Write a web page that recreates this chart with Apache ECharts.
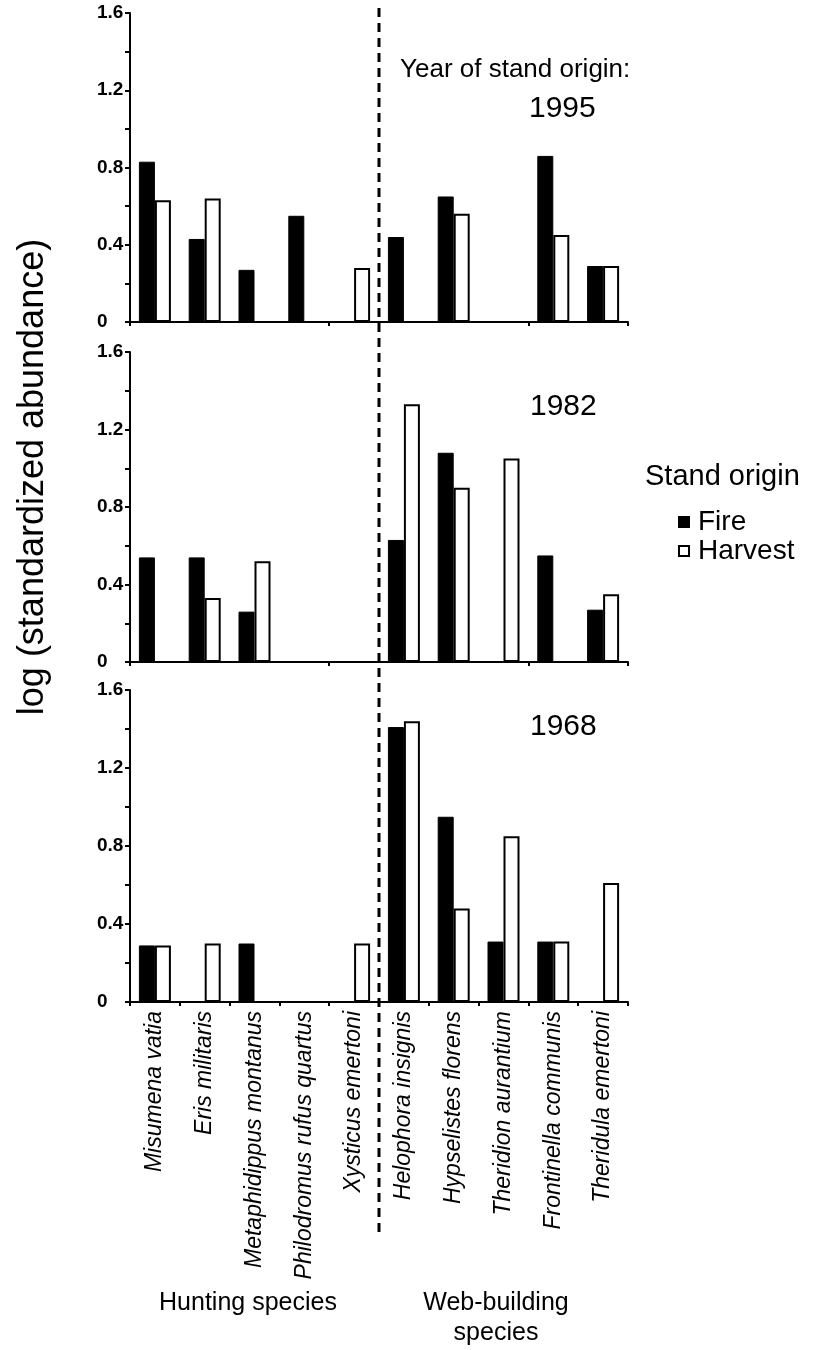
<!DOCTYPE html>
<html>
<head>
<meta charset="utf-8">
<script src="https://cdn.jsdelivr.net/npm/echarts@6/dist/echarts.min.js"></script>
<style>
html,body{margin:0;padding:0;background:#fff;}
#chart{width:828px;height:1350px;}
</style>
</head>
<body>
<div id="chart"></div>
<script>
// ---- data ----
var species = ["Misumena vatia", "Eris militaris", "Metaphidippus montanus", "Philodromus rufus quartus", "Xysticus emertoni",
  "Helophora insignis", "Hypselistes florens", "Theridion aurantium", "Frontinella communis", "Theridula emertoni"];
var years = ["1995", "1982", "1968"];
var fire1995    = [0.83, 0.43, 0.27, 0.55, 0, 0.44, 0.65, 0, 0.86, 0.29];
var harvest1995 = [0.63, 0.64, 0, 0, 0.28, 0, 0.56, 0, 0.45, 0.29];
var fire1982    = [0.54, 0.54, 0.26, 0, 0, 0.63, 1.08, 0, 0.55, 0.27];
var harvest1982 = [0, 0.33, 0.52, 0, 0, 1.33, 0.90, 1.05, 0, 0.35];
var fire1968    = [0.29, 0, 0.30, 0, 0, 1.41, 0.95, 0.31, 0.31, 0];
var harvest1968 = [0.29, 0.30, 0, 0, 0.30, 1.44, 0.48, 0.85, 0.31, 0.61];
var yTicks = [0, 0.4, 0.8, 1.2, 1.6];

var fireData = [fire1995, fire1982, fire1968];
var harvestData = [harvest1995, harvest1982, harvest1968];

var FONT = "'Liberation Sans', Arial, sans-serif";
var gridTops = [13, 352, 690];
var gridHeights = [309, 310, 312];

function clean(arr){ return arr.map(function(v){ return v === 0 ? null : v; }); }

var grids = [], xAxes = [], yAxes = [], series = [];
for (var i = 0; i < 3; i++) {
  grids.push({left: 130, width: 498, top: gridTops[i], height: gridHeights[i]});
  xAxes.push({
    type: 'category', gridIndex: i, data: species,
    axisLine: {lineStyle: {color: '#000', width: 2}},
    axisTick: {show: true, length: 4, lineStyle: {color: '#000', width: 2}},
    axisLabel: i === 2 ? {
      show: true, interval: 0, rotate: 90, fontStyle: 'italic', fontSize: 23,
      fontFamily: FONT, color: '#000', margin: 9
    } : {show: false}
  });
  yAxes.push({
    type: 'value', gridIndex: i, min: 0, max: 1.6, interval: 0.2,
    splitLine: {show: false},
    axisLine: {show: true, lineStyle: {color: '#000', width: 2}},
    axisTick: {show: true, length: 5, lineStyle: {color: '#000', width: 2}},
    axisLabel: {
      fontSize: 19, fontWeight: 'bold', fontFamily: FONT, color: '#000', margin: 33, align: 'left',
      formatter: function(v){
        for (var k = 0; k < yTicks.length; k++) {
          if (Math.abs(v - yTicks[k]) < 1e-6) return String(yTicks[k]);
        }
        return '';
      }
    }
  });
  series.push({
    name: 'Fire', type: 'bar', xAxisIndex: i, yAxisIndex: i,
    data: clean(fireData[i]), barWidth: 16, barGap: '0%',
    itemStyle: {color: '#000', borderColor: '#000', borderWidth: 1},
    emphasis: {disabled: true}, animation: false
  });
  series.push({
    name: 'Harvest', type: 'bar', xAxisIndex: i, yAxisIndex: i,
    data: clean(harvestData[i]), barWidth: 16, barGap: '0%',
    itemStyle: {color: '#fff', borderColor: '#000', borderWidth: 2},
    emphasis: {disabled: true}, animation: false
  });
}

var titleStyle = {fontFamily: FONT, fontSize: 26, fontWeight: 'normal', color: '#000'};
var yearStyle = {fontFamily: FONT, fontSize: 30, fontWeight: 'normal', color: '#000'};
var bottomStyle = {fontFamily: FONT, fontSize: 25, fontWeight: 'normal', color: '#000'};

var yLabelGraphic = {
  type: 'text', x: 33, y: 477, rotation: Math.PI / 2,
  style: {text: 'log (standardized abundance)', fontFamily: FONT, fontSize: 36, fill: '#000', align: 'center', verticalAlign: 'middle'}
};

var option = {
  backgroundColor: '#fff',
  animation: false,
  grid: grids, xAxis: xAxes, yAxis: yAxes, series: series,
  title: [
    {text: 'Year of stand origin:', left: 400, top: 57, textStyle: titleStyle, padding: 0},
    {text: years[0], left: 529, top: 94, textStyle: yearStyle, padding: 0},
    {text: years[1], left: 530, top: 392, textStyle: yearStyle, padding: 0},
    {text: years[2], left: 530, top: 712, textStyle: yearStyle, padding: 0},
    {text: 'Stand origin', left: 645, top: 462, textStyle: {fontFamily: FONT, fontSize: 29, fontWeight: 'normal', color: '#000'}, padding: 0},
    {text: 'Hunting species', left: 248, top: 1291, textAlign: 'center', textStyle: bottomStyle, padding: 0},
    {text: 'Web-building', left: 496, top: 1291, textAlign: 'center', textStyle: bottomStyle, padding: 0},
    {text: 'species', left: 496, top: 1321, textAlign: 'center', textStyle: bottomStyle, padding: 0}
  ],
  legend: {
    data: ['Fire', 'Harvest'], orient: 'vertical', left: 678, top: 508,
    icon: 'rect', itemWidth: 10, itemHeight: 10, itemGap: 1, padding: 0,
    selectedMode: false,
    textStyle: {fontFamily: FONT, fontSize: 28, color: '#000', lineHeight: 25, padding: [0, 0, 0, 4]}
  },
  graphic: [yLabelGraphic]
};

var chart = echarts.init(document.getElementById('chart'), null, {renderer: 'canvas'});
chart.setOption(option);

// dashed divider between hunting and web-building species, positioned from the category scale
var pA = chart.convertToPixel({xAxisIndex: 2}, species[4]);
var pB = chart.convertToPixel({xAxisIndex: 2}, species[5]);
var xDiv = (pA + pB) / 2;
chart.setOption({
  graphic: [yLabelGraphic, {
    type: 'line', shape: {x1: xDiv, y1: 8, x2: xDiv, y2: 1236},
    style: {stroke: '#000', lineWidth: 3, lineDash: [9, 6]}, z: 100
  }]
});
</script>
</body>
</html>
